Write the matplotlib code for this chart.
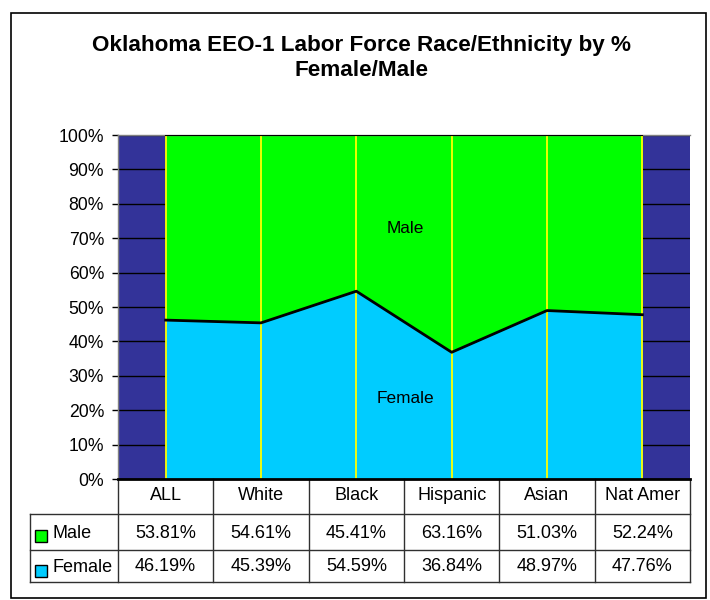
import matplotlib
matplotlib.use("Agg")
import matplotlib.pyplot as plt
from matplotlib.patches import Rectangle
from matplotlib.lines import Line2D

plt.rcParams['font.family'] = ['Liberation Sans', 'DejaVu Sans']

categories = ["ALL", "White", "Black", "Hispanic", "Asian", "Nat Amer"]
male = [53.81, 54.61, 45.41, 63.16, 51.03, 52.24]
female = [46.19, 45.39, 54.59, 36.84, 48.97, 47.76]
yticklabels = ["0%", "10%", "20%", "30%", "40%", "50%", "60%", "70%", "80%", "90%", "100%"]
title = "Oklahoma EEO-1 Labor Force Race/Ethnicity by %\nFemale/Male"

W, H = 710, 600
fig = plt.figure(figsize=(W / 100, H / 100), dpi=100)
fig.patch.set_facecolor("white")

# outer border
fig.patches.append(Rectangle((11 / W, 2 / H), (706 - 11) / W, (598 - 13) / H,
                             transform=fig.transFigure, fill=False,
                             edgecolor="black", linewidth=1.2))

fig.text(361 / W, 1 - 58 / H, title, ha="center", va="center",
         fontsize=16.2, fontweight="bold", linespacing=1.28)

left, right, top, bottom = 118, 690, 135, 479
ax = fig.add_axes([left / W, 1 - bottom / H, (right - left) / W, (bottom - top) / H])
ax.set_facecolor("#333399")

n = len(categories)
x = list(range(n))
fem = [v / 100 for v in female]
tot = [(f + m) / 100 for f, m in zip(female, male)]

ax.fill_between(x, 0, fem, color="#00CCFF", zorder=2, linewidth=0)
ax.fill_between(x, fem, tot, color="#00FF00", zorder=2, linewidth=0)
ax.vlines(x, 0, 1, colors="#FFFF00", linewidth=1.3, zorder=3)
ax.plot(x, fem, color="black", linewidth=2, zorder=4)
ax.plot(x, tot, color="black", linewidth=1.5, zorder=4)

ax.set_xlim(-0.5, n - 0.5)
ax.set_ylim(0, 1)
ax.set_yticks([i / 10 for i in range(11)])
ax.set_yticklabels(yticklabels, fontsize=12.7)
ax.set_xticks([])
ax.tick_params(axis="y", direction="out", length=4, width=1, pad=6, color="black")
ax.yaxis.grid(True, color="black", linewidth=1)
ax.set_axisbelow(True)
for s in ["top", "left"]:
    ax.spines[s].set_color("#808080")
    ax.spines[s].set_linewidth(1)
ax.spines["right"].set_visible(False)
ax.spines["bottom"].set_color("black")
ax.spines["bottom"].set_linewidth(2)
ax.spines["bottom"].set_zorder(5)

ax.text(2.51, 0.727, "Male", ha="center", va="center", fontsize=12.4, zorder=6)
ax.text(2.51, 0.233, "Female", ha="center", va="center", fontsize=12.4, zorder=6)

# data table
ph = bottom - top
def ay(py):
    return (bottom - py) / ph
pxu = (right - left) / n
def dx(px):
    return (px - left) / pxu - 0.5

tr = ax.get_xaxis_transform()
y_hdr, y_m, y_f = ay(514), ay(550), ay(582)
x_l = dx(30)
lc = "#303030"
def line(xs, ys, lw=1, c=lc):
    ax.add_line(Line2D(xs, ys, transform=tr, color=c, linewidth=lw, clip_on=False))

for i in range(n + 1):
    line([i - 0.5, i - 0.5], [0, y_f])
line([x_l, x_l], [y_hdr, y_f])
for yy in (y_hdr, y_m, y_f):
    line([x_l, n - 0.5], [yy, yy])

fs = 13
for i, c in enumerate(categories):
    ax.text(i, ay(495), c, transform=tr, ha="center", va="center", fontsize=fs)
    ax.text(i, ay(533), f"{male[i]:.2f}%", transform=tr, ha="center", va="center", fontsize=fs)
    ax.text(i, ay(566.5), f"{female[i]:.2f}%", transform=tr, ha="center", va="center", fontsize=fs)

kw = 12 / pxu
kh = 12 / ph
for (lab, col, ty, ky) in (("Male", "#00FF00", 533, 536), ("Female", "#00CCFF", 567.5, 570.5)):
    ax.add_patch(Rectangle((dx(35), ay(ky + 6)), kw, kh, transform=tr, facecolor=col,
                           edgecolor="black", linewidth=1, clip_on=False))
    ax.text(dx(52), ay(ty), lab, transform=tr, ha="left", va="center", fontsize=fs)

fig.savefig("out.png", dpi=100)
